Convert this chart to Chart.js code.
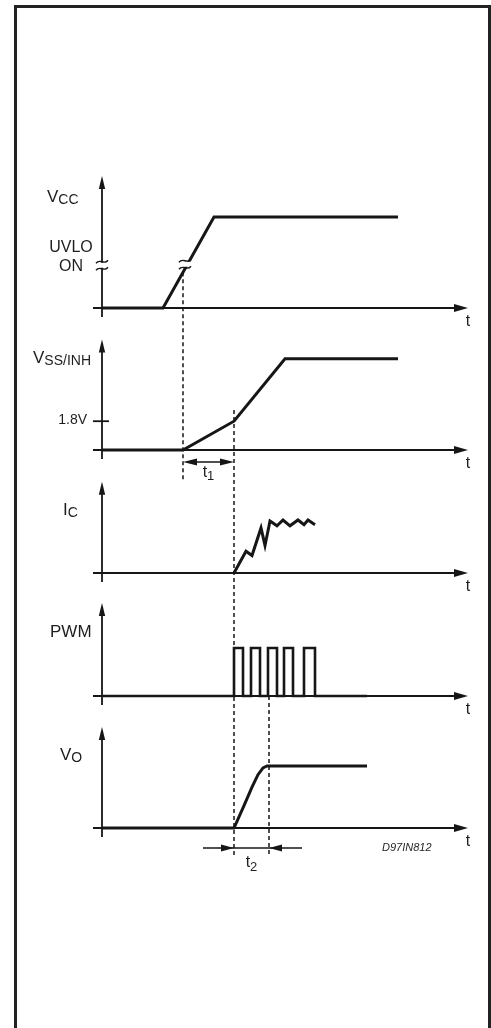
<!DOCTYPE html>
<html>
<head>
<meta charset="utf-8">
<script src="https://cdn.jsdelivr.net/npm/chart.js@4.4.1/dist/chart.umd.min.js"></script>
<style>
    html, body { margin: 0; padding: 0; background: #fff; }
    #wrap { position: relative; width: 491px; height: 1028px; overflow: hidden; }
    #frame { position: absolute; left: 14px; top: 5px; width: 471px; height: 1100px; border: 3px solid #222; }
    #chart { position: absolute; left: 0; top: 0; }
</style>
</head>
<body>
<div id="wrap">
    <div id="frame"></div>
    <canvas id="chart" width="491" height="1028"></canvas>
</div>
<script>
'use strict';

// time axis in arbitrary units, 0 = origin of every trace
const tEnd = 36.6;

// V_CC (normalised, 1 = final value)
const vccTime  = [0, 6.1, 11.2, 29.6];
const vccLevel = [0, 0, 1, 1];
const uvloLevel = 0.47;

// V_SS/INH in volts
const vssTime  = [0, 8.1, 13.2, 18.3, 29.6];
const vssLevel = [0, 0, 1.8, 5.7, 5.7];
const vssTick  = 1.8;

// I_C (normalised)
const icTime  = [13.2, 14.4, 15.0, 15.9, 16.3, 16.8, 17.5, 18.1, 18.8, 19.6, 20.2, 20.6, 21.3];
const icLevel = [0, 0.41, 0.33, 0.85, 0.52, 0.98, 0.89, 1.0, 0.89, 1.0, 0.91, 1.0, 0.91];

// PWM edges (time of each change, new level)
const pwmEdges = [0, 13.2, 14.1, 14.9, 15.8, 16.6, 17.5, 18.2, 19.1, 20.2, 21.3, 26.5];
const pwmLevel = [0, 1, 0, 1, 0, 1, 0, 1, 0, 1, 0, 0];

// V_O (normalised)
const voTime  = [0, 13.2, 14.2, 15.0, 15.6, 16.1, 16.5, 26.5];
const voLevel = [0, 0, 0.36, 0.66, 0.86, 0.97, 1, 1];

// timing marks
const tUvlo = 8.1;
const tSoft = 13.2;
const tReg  = 16.7;

const ink = '#161616';
const font = '"Liberation Sans", Arial, sans-serif';
const H = 1028;

// panel layout: axis baseline (px), px per unit, axis height (units)
const panels = [
    { id: 'yVcc', base: 308, ppu: 91, height: 1.45, main: 'V', sub: 'CC', lx: 47, ly: -106 },
    { id: 'yVss', base: 450, ppu: 16, height: 6.9, main: 'V', sub: 'SS/INH', lx: 33, ly: -87 },
    { id: 'yIc',  base: 573, ppu: 53, height: 1.72, main: 'I', sub: 'C', lx: 63, ly: -58 },
    { id: 'yPwm', base: 696, ppu: 48, height: 1.94, main: 'PWM', sub: '', lx: 50, ly: -59 },
    { id: 'yVo',  base: 828, ppu: 62, height: 1.63, main: 'V', sub: 'O', lx: 60, ly: -68 },
];

function pts(xs, ys) {
    return xs.map((x, i) => ({ x: x, y: ys[i] }));
}

function line(ctx, x1, y1, x2, y2) {
    ctx.beginPath();
    ctx.moveTo(x1, y1);
    ctx.lineTo(x2, y2);
    ctx.stroke();
}

function arrow(ctx, x, y, dir, len, half) {
    ctx.beginPath();
    ctx.moveTo(x, y);
    if (dir == 'up') {
        ctx.lineTo(x - half, y + len);
        ctx.lineTo(x + half, y + len);
    } else if (dir == 'right') {
        ctx.lineTo(x - len, y - half);
        ctx.lineTo(x - len, y + half);
    } else {
        ctx.lineTo(x + len, y - half);
        ctx.lineTo(x + len, y + half);
    }
    ctx.closePath();
    ctx.fill();
}

function subText(ctx, main, sub, x, y, size, subSize, drop, centered) {
    ctx.font = size + 'px ' + font;
    let w = ctx.measureText(main).width;
    ctx.font = subSize + 'px ' + font;
    let ws = sub ? ctx.measureText(sub).width : 0;
    let left = centered ? x - (w + ws) / 2 : x;
    ctx.textAlign = 'left';
    ctx.textBaseline = 'alphabetic';
    ctx.font = size + 'px ' + font;
    ctx.fillText(main, left, y);
    if (sub) {
        ctx.font = subSize + 'px ' + font;
        ctx.fillText(sub, left + w, y + drop);
    }
}

function breakMark(ctx, cx, cy, gapW) {
    ctx.save();
    ctx.fillStyle = '#fff';
    ctx.fillRect(cx - gapW / 2, cy - 2.5, gapW, 5);
    ctx.strokeStyle = ink;
    ctx.lineWidth = 1.4;
    [-3.5, 3.5].forEach(d => {
        ctx.beginPath();
        ctx.moveTo(cx - 6, cy + d + 1.5);
        ctx.bezierCurveTo(cx - 2, cy + d - 4, cx + 2, cy + d + 4, cx + 6, cy + d - 1.5);
        ctx.stroke();
    });
    ctx.restore();
}

const diagram = {
    id: 'diagram',
    beforeDatasetsDraw(chart) {
        const ctx = chart.ctx;
        const xs = chart.scales.x;
        const x0 = xs.getPixelForValue(0);
        const xStart = xs.getPixelForValue(-0.9);
        const xTip = xs.getPixelForValue(tEnd);
        ctx.save();
        ctx.strokeStyle = ink;
        ctx.fillStyle = ink;
        ctx.lineWidth = 1.8;
        panels.forEach(p => {
            const ys = chart.scales[p.id];
            const yb = ys.getPixelForValue(0);
            const yt = ys.getPixelForValue(p.height);
            line(ctx, xStart, yb, xTip - 6, yb);
            arrow(ctx, xTip, yb, 'right', 14, 4);
            line(ctx, x0, yb + 9, x0, yt + 6);
            arrow(ctx, x0, yt, 'up', 13, 3.2);
        });
        // 1.8V tick
        const yTick = chart.scales.yVss.getPixelForValue(vssTick);
        line(ctx, x0 - 9, yTick, x0 + 7, yTick);
        ctx.restore();
    },
    afterDatasetsDraw(chart) {
        const ctx = chart.ctx;
        const xs = chart.scales.x;
        const sc = chart.scales;
        const x0 = xs.getPixelForValue(0);
        const xTip = xs.getPixelForValue(tEnd);
        ctx.save();

        // break marks at the UVLO level
        const yU = sc.yVcc.getPixelForValue(uvloLevel);
        breakMark(ctx, x0, yU, 6);
        const rampT = vccTime[1] + uvloLevel * (vccTime[2] - vccTime[1]);
        breakMark(ctx, xs.getPixelForValue(rampT) - 2, yU - 1, 12);

        // dashed timing marks
        ctx.strokeStyle = ink;
        ctx.lineWidth = 1.5;
        ctx.setLineDash([4, 3]);
        const rampAtUvlo = (tUvlo - vccTime[1]) / (vccTime[2] - vccTime[1]);
        let xa = xs.getPixelForValue(tUvlo);
        line(ctx, xa, sc.yVcc.getPixelForValue(rampAtUvlo), xa, sc.yVss.getPixelForValue(0) + 30);
        let xb = xs.getPixelForValue(tSoft);
        line(ctx, xb, sc.yVss.getPixelForValue(0) - 40, xb, sc.yVo.getPixelForValue(0) + 29);
        let xc = xs.getPixelForValue(tReg);
        line(ctx, xc, sc.yPwm.getPixelForValue(0), xc, sc.yVo.getPixelForValue(0) + 29);
        ctx.setLineDash([]);

        // t1 dimension
        ctx.fillStyle = ink;
        const y1 = sc.yVss.getPixelForValue(0) + 12;
        line(ctx, xa + 4, y1, xb - 4, y1);
        arrow(ctx, xa, y1, 'left', 14, 3.6);
        arrow(ctx, xb, y1, 'right', 14, 3.6);

        // t2 dimension
        const y2 = sc.yVo.getPixelForValue(0) + 20;
        line(ctx, xs.getPixelForValue(tSoft - 3.1), y2, xs.getPixelForValue(tReg + 3.3), y2);
        arrow(ctx, xb, y2, 'right', 13, 3.6);
        arrow(ctx, xc, y2, 'left', 13, 3.6);

        // texts
        ctx.fillStyle = '#1e1e1e';
        panels.forEach(p => {
            const yb = sc[p.id].getPixelForValue(0);
            subText(ctx, p.main, p.sub, p.lx, yb + p.ly, 17, 14, 2, false);
            ctx.font = '16px ' + font;
            ctx.textAlign = 'center';
            ctx.fillText('t', xTip, yb + 18);
        });
        ctx.font = '16px ' + font;
        ctx.textAlign = 'center';
        ctx.fillText('UVLO', 71, yU - 13);
        ctx.fillText('ON', 71, yU + 6);
        ctx.font = '14px ' + font;
        ctx.textAlign = 'right';
        ctx.textBaseline = 'middle';
        ctx.fillText('1.8V', 87, sc.yVss.getPixelForValue(vssTick) - 1);

        subText(ctx, 't', '1', (xa + xb) / 2, sc.yVss.getPixelForValue(0) + 27, 16, 13, 3, true);
        subText(ctx, 't', '2', (xb + xc) / 2, sc.yVo.getPixelForValue(0) + 39, 16, 13, 4, true);

        ctx.font = 'italic 11px ' + font;
        ctx.textAlign = 'left';
        ctx.textBaseline = 'alphabetic';
        ctx.fillText('D97IN812', xs.getPixelForValue(28.0), sc.yVo.getPixelForValue(0) + 23);
        ctx.restore();
    }
};

let scales = {
    x: { type: 'linear', display: false, min: 0, max: tEnd },
};
panels.forEach(p => {
    scales[p.id] = { type: 'linear', display: false, min: -(H - p.base) / p.ppu, max: p.base / p.ppu };
});

function trace(data, axis, extra) {
    return Object.assign({
        data: data,
        yAxisID: axis,
        borderColor: ink,
        borderWidth: 3,
        pointRadius: 0,
        tension: 0,
        fill: false,
        clip: false,
        borderJoinStyle: 'miter',
    }, extra || {});
}

new Chart(document.getElementById('chart').getContext('2d'), {
    type: 'line',
    data: {
        datasets: [
            trace(pts(vccTime, vccLevel), 'yVcc'),
            trace(pts(vssTime, vssLevel), 'yVss'),
            trace(pts(icTime, icLevel), 'yIc'),
            trace(pts(pwmEdges, pwmLevel), 'yPwm', { stepped: true, borderWidth: 2.6 }),
            trace(pts(voTime, voLevel), 'yVo'),
        ]
    },
    options: {
        responsive: false,
        animation: false,
        layout: { padding: { left: 102, right: 23, top: 0, bottom: 0 } },
        scales: scales,
        plugins: { legend: { display: false }, tooltip: { enabled: false } },
        events: [],
    },
    plugins: [diagram],
});
</script>
</body>
</html>
